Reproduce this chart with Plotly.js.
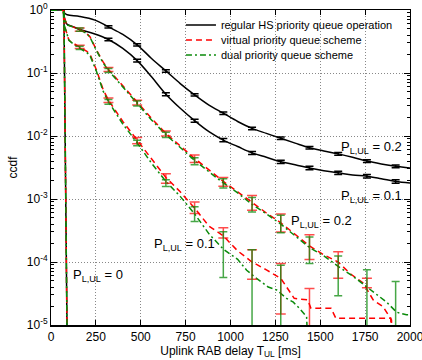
<!DOCTYPE html>
<html>
<head>
<meta charset="utf-8">
<script src="https://cdn.plot.ly/plotly-3.0.1.min.js"></script>
<style>html,body{margin:0;padding:0;background:#fff}#chart{width:422px;height:360px}</style>
</head>
<body>
<div id="chart"></div>
<script>
// ---------- data ----------
// P_L,UL = 0 : all three schemes drop vertically
const zeroX = [0, 72, 89, 90];
const zeroY = [1, 1, 1e-5, 1e-6];

// regular HS priority queue operation
const regHighX = [0, 68, 75, 90, 160, 245, 320, 400, 480, 560, 640, 720, 800, 880, 960, 1040, 1120, 1200, 1280, 1360, 1440, 1520, 1600, 1680, 1760, 1840, 1920, 2000];
const regHighY = [1, 1, 0.9, 0.84, 0.79, 0.69, 0.54, 0.41, 0.28, 0.17, 0.108, 0.068, 0.045, 0.031, 0.023, 0.017, 0.0132, 0.011, 0.0092, 0.0077, 0.0065, 0.0058, 0.0052, 0.0046, 0.0040, 0.0036, 0.0033, 0.0031];
const regLowX = [0, 68, 75, 88, 120, 160, 240, 320, 400, 480, 560, 640, 720, 800, 880, 960, 1040, 1120, 1200, 1280, 1360, 1440, 1520, 1600, 1680, 1760, 1840, 1920, 2000];
const regLowY = [1, 1, 0.75, 0.6, 0.55, 0.49, 0.42, 0.34, 0.245, 0.157, 0.087, 0.046, 0.0275, 0.0175, 0.0117, 0.0086, 0.0068, 0.0054, 0.0046, 0.0039, 0.0035, 0.0031, 0.0028, 0.0026, 0.0024, 0.0023, 0.0021, 0.0019, 0.0018];

// virtual priority queue scheme
const virtHighX = [0, 68, 75, 88, 130, 160, 200, 217, 254, 290, 320, 400, 480, 560, 640, 720, 800, 880, 960, 1040, 1120, 1200, 1280, 1360, 1440, 1520, 1600, 1665, 1740, 1795, 1850, 1897, 1910];
const virtHighY = [1, 1, 0.75, 0.58, 0.53, 0.49, 0.42, 0.377, 0.23, 0.15, 0.114, 0.062, 0.034, 0.019, 0.011, 0.0069, 0.0044, 0.0029, 0.0019, 0.0013, 8.8e-4, 6.0e-4, 4.2e-4, 2.7e-4, 1.8e-4, 1.3e-4, 1.0e-4, 6.6e-5, 4.6e-5, 2.5e-5, 1.95e-5, 1.2e-5, 1e-6];
const virtLowX = [0, 68, 72, 100, 130, 160, 200, 217, 254, 290, 320, 400, 480, 560, 640, 720, 800, 880, 960, 1040, 1120, 1200, 1280, 1355, 1430, 1448, 1560, 1587, 1893, 1902];
const virtLowY = [1, 1, 0.6, 0.33, 0.29, 0.26, 0.22, 0.2, 0.11, 0.055, 0.037, 0.017, 0.0085, 0.0043, 0.0022, 0.0013, 7.2e-4, 3.7e-4, 2.6e-4, 1.5e-4, 1.0e-4, 7.5e-5, 5.5e-5, 2.65e-5, 2.5e-5, 1.84e-5, 1.84e-5, 1.28e-5, 1.28e-5, 1e-6];

// dual priority queue scheme
const dualHighX = [0, 68, 75, 88, 130, 160, 200, 217, 254, 290, 320, 400, 480, 560, 640, 720, 800, 880, 960, 1040, 1120, 1200, 1280, 1360, 1440, 1520, 1600, 1680, 1758, 1810, 1870, 1925, 1980, 2000];
const dualHighY = [1, 1, 0.75, 0.58, 0.53, 0.49, 0.42, 0.37, 0.225, 0.145, 0.11, 0.06, 0.033, 0.018, 0.0105, 0.0065, 0.0041, 0.0027, 0.0018, 0.00125, 8.2e-4, 5.8e-4, 4.0e-4, 2.6e-4, 1.7e-4, 1.25e-4, 8.5e-5, 6.0e-5, 4.1e-5, 3.1e-5, 2.3e-5, 1.6e-5, 1.45e-5, 1.45e-5];
const dualLowX = [0, 68, 72, 100, 130, 160, 200, 217, 254, 290, 320, 400, 480, 560, 640, 720, 800, 880, 960, 1040, 1090, 1145, 1210, 1257, 1312, 1350, 1387, 1424, 1440];
const dualLowY = [1, 1, 0.6, 0.33, 0.28, 0.25, 0.21, 0.19, 0.105, 0.052, 0.035, 0.0155, 0.0078, 0.0037, 0.0019, 0.0011, 5.8e-4, 2.8e-4, 1.6e-4, 1.1e-4, 7.4e-5, 5.5e-5, 4.0e-5, 3.6e-5, 2.65e-5, 2.3e-5, 1.8e-5, 1.35e-5, 1e-6];

// confidence intervals (centre, +err, -err)
const ebRegX = [320, 480, 640, 800, 960, 1120, 1280, 1440, 1600, 1760, 1920];
const ebRegHighY = [0.54, 0.28, 0.108, 0.045, 0.023, 0.0132, 0.0092, 0.0065, 0.0052, 0.0040, 0.0033];
const ebRegHighE = [0.02, 0.011, 0.005, 0.002, 0.0011, 0.0006, 0.0004, 0.0003, 0.00025, 0.0002, 0.00016];
const ebRegLowY = [0.34, 0.157, 0.046, 0.0175, 0.0086, 0.0054, 0.0039, 0.0031, 0.0026, 0.0023, 0.0019];
const ebRegLowE = [0.015, 0.008, 0.0025, 0.001, 0.0005, 0.0003, 0.00024, 0.0002, 0.00016, 0.00014, 0.00012];

const ebVirtHighX = [160, 320, 480, 640, 800, 960, 1120, 1280, 1440, 1600, 1760];
const ebVirtHighY = [0.49, 0.114, 0.034, 0.011, 0.0044, 0.0019, 9.0e-4, 4.4e-4, 1.9e-4, 1.0e-4, 4.7e-5];
const ebVirtHighP = [0.03, 0.008, 0.003, 0.001, 0.0006, 0.0003, 2.4e-4, 1.4e-4, 0.8e-4, 4.6e-5, 0.8e-5];
const ebVirtHighM = [0.03, 0.008, 0.003, 0.001, 0.0006, 0.0003, 2.4e-4, 1.4e-4, 0.8e-4, 4.5e-5, 0.8e-5];
const ebDualHighX = [160, 320, 480, 640, 800, 960, 1120, 1280, 1440, 1600, 1760, 1920];
const ebDualHighY = [0.49, 0.11, 0.033, 0.0105, 0.0040, 0.0018, 8.4e-4, 4.2e-4, 1.7e-4, 7.9e-5, 4.1e-5, 1.6e-5];
const ebDualHighP = [0.03, 0.008, 0.003, 0.001, 0.0005, 0.0003, 2.2e-4, 1.3e-4, 0.8e-4, 4.5e-5, 3.4e-5, 3.3e-5];
const ebDualHighM = [0.03, 0.008, 0.003, 0.001, 0.0005, 0.0003, 2.2e-4, 1.3e-4, 0.75e-4, 5.0e-5, 4.1e-5, 1.6e-5];

const ebVirtLowX = [160, 320, 480, 640, 800, 960, 1120, 1280, 1440];
const ebVirtLowY = [0.26, 0.037, 0.0085, 0.00215, 7.4e-4, 2.9e-4, 1.05e-4, 5.5e-5, 2.5e-5];
const ebVirtLowP = [0.015, 0.003, 0.001, 0.00037, 1.6e-4, 0.6e-4, 5.2e-5, 4.0e-5, 1.3e-5];
const ebVirtLowM = [0.015, 0.003, 0.001, 0.00037, 1.5e-4, 0.5e-4, 5.2e-5, 4.0e-5, 2.5e-5];
const ebDualLowX = [160, 320, 480, 640, 800, 960, 1120, 1280];
const ebDualLowY = [0.25, 0.035, 0.0078, 0.0018, 5.9e-4, 1.8e-4, 6.3e-5, 3.2e-5];
const ebDualLowP = [0.015, 0.003, 0.0008, 0.00022, 1.6e-4, 1.23e-4, 9.4e-5, 5.7e-5];
const ebDualLowM = [0.015, 0.003, 0.0008, 0.00022, 1.5e-4, 1.23e-4, 6.3e-5, 3.2e-5];

const xTicks = [0, 250, 500, 750, 1000, 1250, 1500, 1750, 2000];
const yTicks = [1e-5, 1e-4, 1e-3, 1e-2, 1e-1, 1];
const yTickText = ['10<sup>-5</sup>', '10<sup>-4</sup>', '10<sup>-3</sup>', '10<sup>-2</sup>', '10<sup>-1</sup>', '10<sup>0</sup>'];
const seriesNames = ['regular HS priority queue operation', 'virtual priority queue scheme', 'dual priority queue scheme'];

// ---------- styles ----------
const BLACK = '#000000', RED = '#ff0000', GREEN = '#0a8a0a';
const blackLine = {color: BLACK, width: 1.5};
const redLine = {color: RED, width: 1.5, dash: '6px,4px'};
const greenLine = {color: GREEN, width: 1.5, dash: '6px,3px,2px,3px'};
const legendIds = ['legend', 'legend2', 'legend3'];

function line(x, y, ln, idx, show, shape) {
  return {x: x, y: y, type: 'scatter', mode: 'lines', line: Object.assign({shape: shape || 'linear'}, ln),
          name: seriesNames[idx], legend: legendIds[idx], showlegend: !!show, hoverinfo: 'skip'};
}
function bars(x, y, plus, minus, color, w) {
  return {x: x, y: y, type: 'scatter', mode: 'markers', marker: {size: 1, color: 'rgba(0,0,0,0)'},
          showlegend: false, hoverinfo: 'skip',
          error_y: {type: 'data', symmetric: false, array: plus, arrayminus: minus, color: color, thickness: 1.5, width: w}};
}

const traces = [
  line(regHighX, regHighY, blackLine, 0, true, 'spline'),
  line(regLowX, regLowY, blackLine, 0, false, 'spline'),
  line(zeroX, zeroY, blackLine, 0, false),
  line(virtHighX, virtHighY, redLine, 1, true),
  line(virtLowX, virtLowY, redLine, 1, false),
  line(zeroX, zeroY, redLine, 1, false),
  line(dualHighX, dualHighY, greenLine, 2, true),
  line(dualLowX, dualLowY, greenLine, 2, false),
  line(zeroX, zeroY, greenLine, 2, false),
  bars(ebRegX, ebRegHighY, ebRegHighE, ebRegHighE, BLACK, 4),
  bars(ebRegX, ebRegLowY, ebRegLowE, ebRegLowE, BLACK, 4),
  bars(ebVirtHighX, ebVirtHighY, ebVirtHighP, ebVirtHighM, 'rgba(255,0,0,0.7)', 5),
  bars(ebVirtLowX, ebVirtLowY, ebVirtLowP, ebVirtLowM, 'rgba(255,0,0,0.7)', 5),
  bars(ebDualHighX, ebDualHighY, ebDualHighP, ebDualHighM, 'rgba(10,138,10,0.75)', 4),
  bars(ebDualLowX, ebDualLowY, ebDualLowP, ebDualLowM, 'rgba(10,138,10,0.75)', 4)
];

const FONT = 'Liberation Sans, Arial, sans-serif';
function ann(x, y, txt) {
  return {xref: 'paper', yref: 'paper', x: x, y: y, xanchor: 'left', yanchor: 'middle', showarrow: false,
          text: txt, font: {family: FONT, size: 13, color: '#000'}};
}
function leg(y) {
  return {x: 0.362, y: y, xanchor: 'left', yanchor: 'middle', bgcolor: 'rgba(0,0,0,0)',
          font: {family: FONT, size: 11, color: '#000'}, itemwidth: 30};
}

const layout = {
  width: 422, height: 360,
  margin: {l: 51, r: 12, t: 10, b: 35},
  paper_bgcolor: '#fff', plot_bgcolor: '#fff',
  font: {family: FONT, size: 12, color: '#000'},
  showlegend: true,
  legend: leg(0.952),
  legend2: leg(0.905),
  legend3: leg(0.857),
  xaxis: {range: [0, 2000], tickvals: xTicks, ticks: 'inside', ticklen: 5, tickcolor: '#000',
          showline: true, linecolor: '#000', linewidth: 1.5, mirror: 'allticks', ticklabeloverflow: 'allow',
          showgrid: true, gridcolor: '#888', griddash: '1px,2px', gridwidth: 1, zeroline: false,
          tickfont: {family: FONT, size: 12},
          title: {text: 'Uplink RAB delay T<sub>UL</sub> [ms]', font: {family: FONT, size: 12}, standoff: 1}},
  yaxis: {type: 'log', range: [-5, 0], tickvals: yTicks, ticktext: yTickText, ticks: 'inside', ticklen: 6,
          tickcolor: '#000', showline: true, linecolor: '#000', linewidth: 1, mirror: 'allticks',
          showgrid: true, gridcolor: '#888', griddash: '1px,2px', gridwidth: 1, zeroline: false,
          tickfont: {family: FONT, size: 12},
          minor: {ticks: 'inside', ticklen: 3, tickcolor: '#000', dtick: 'D1', showgrid: false},
          title: {text: 'ccdf', font: {family: FONT, size: 12}, standoff: 6}},
  annotations: [
    ann(0.802, 0.565, 'P<sub>L,UL</sub> = 0.2'),
    ann(0.802, 0.4095, 'P<sub>L,UL</sub> = 0.1'),
    ann(0.663, 0.330, 'P<sub>L,UL</sub> = 0.2'),
    ann(0.281, 0.257, 'P<sub>L,UL</sub> = 0.1'),
    ann(0.0557, 0.156, 'P<sub>L,UL</sub> = 0')
  ]
};

Plotly.newPlot('chart', traces, layout, {staticPlot: true, displayModeBar: false});
</script>
</body>
</html>
